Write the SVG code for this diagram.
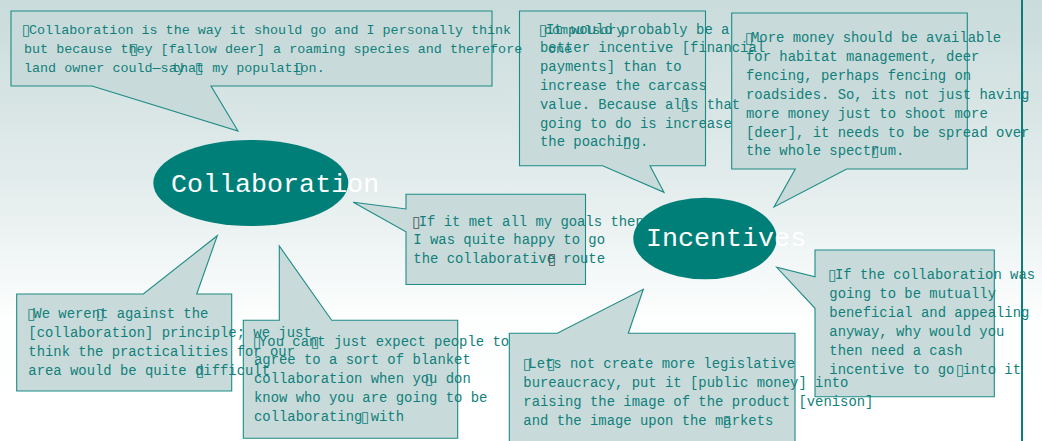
<svg xmlns="http://www.w3.org/2000/svg" width="1042" height="441" viewBox="0 0 1042 441">
  <defs>
    <linearGradient id="bg" x1="0" y1="0" x2="0" y2="1">
      <stop offset="0" stop-color="#c9dbdb"/>
      <stop offset="0.45" stop-color="#e6eeee"/>
      <stop offset="0.72" stop-color="#fdfefe"/>
      <stop offset="1" stop-color="#ffffff"/>
    </linearGradient>
    <style>
      .bubble { fill: #c8dbda; stroke: #1d8b86; stroke-width: 1.1; }
      .t { font-family: "Liberation Mono", "Courier New", monospace; font-size: 13.9px; fill: #117f7a; }
      .ta { font-size: 13.4px; }
      .tofu { font-family: "DejaVu Sans", sans-serif; font-size: 15px; fill: #117f7a; }
      .tofu.dark { fill: #4d4d4d; }
      .hub { fill: #007f79; }
      .hub-label { font-family: "Liberation Mono", "Courier New", monospace; font-size: 26.7px; fill: #ffffff; }
      .rule { stroke: #0e7c77; stroke-width: 2; }
    </style>
  </defs>

  <rect width="1042" height="441" fill="url(#bg)"/>

  <!-- quote: habitat money -->
  <g id="quote-habitat">
    <path class="bubble" d="M731.7,13 H967.3 V169 H846.7 L774,207 L795.3,169 H731.7 Z"/>
    <text class="tofu" x="745" y="43">▯</text>
    <text class="t" x="751" y="42">More money should be available</text>
    <text class="t" x="746" y="60.9">for habitat management, deer</text>
    <text class="t" x="746" y="79.8">fencing, perhaps fencing on</text>
    <text class="t" x="746" y="98.7">roadsides. So, its not just having</text>
    <text class="t" x="746" y="117.6">more money just to shoot more</text>
    <text class="t" x="746" y="136.5">[deer], it needs to be spread over</text>
    <text class="t" x="746" y="155.4">the whole spectrum.</text>
    <text class="tofu" x="871" y="156.4">▯</text>
  </g>

  <!-- quote: financial payments -->
  <g id="quote-payments">
    <path class="bubble" d="M519.5,11 H705.5 V165.7 H650 L664,192.3 L602.7,165.7 H519.5 Z"/>
    <text class="tofu" x="539" y="34.5">▯</text>
    <text class="t" x="546" y="33.5">It would probably be a</text>
    <text class="t" x="540" y="52.3">better incentive [financial</text>
    <text class="t" x="540" y="71.1">payments] than to</text>
    <text class="t" x="540" y="89.9">increase the carcass</text>
    <text class="t" x="540" y="108.7">value. Because alls that</text>
    <text class="tofu" x="681" y="109.7">▯</text>
    <text class="t" x="540" y="127.5">going to do is increase</text>
    <text class="t" x="540" y="146.3">the poaching.</text>
    <text class="tofu" x="623" y="147.3">▯</text>
  </g>

  <!-- quote: collaboration is the way -->
  <g id="quote-way">
    <path class="bubble" d="M11,11 H492 V86 H211 L238,131 L92,86 H11 Z"/>
    <text class="tofu" x="22" y="35">▯</text>
    <text class="t ta" x="29" y="34">Collaboration is the way it should go and I personally think</text>
    <text class="t ta" x="544" y="34">compulsory</text>
    <text class="t ta" x="24" y="53">but because they [fallow deer] a roaming species and therefore</text>
    <text class="tofu" x="130" y="54">▯</text>
    <text class="t ta" x="548" y="53">one</text>
    <text class="t ta" x="24" y="72">land owner could—say</text>
    <text class="t ta" x="172" y="72">that my population.</text>
    <text class="tofu" x="195" y="73">▯</text>
    <text class="tofu" x="295" y="73">▯</text>
  </g>

  <!-- quote: blanket collaboration -->
  <g id="quote-blanket">
    <path class="bubble" d="M243.3,320.3 H279.3 V246 L331.7,320.3 H457.7 V438.3 H243.3 Z"/>
    <text class="tofu" x="253" y="346.5">▯</text>
    <text class="t" x="259" y="345.5">You cant just expect people to</text>
    <text class="tofu" x="311" y="346.5">▯</text>
    <text class="t" x="254" y="364.3">agree to a sort of blanket</text>
    <text class="t" x="254" y="383.1">collaboration when you don</text>
    <text class="tofu" x="425" y="384.1">▯</text>
    <text class="t" x="254" y="401.9">know who you are going to be</text>
    <text class="t" x="254" y="420.7">collaborating with</text>
    <text class="tofu" x="361" y="421.7">▯</text>
  </g>

  <!-- quote: practicalities -->
  <g id="quote-practicalities">
    <path class="bubble" d="M16.7,294 H143.3 L217.3,235.7 L196.7,294 H231.7 V391 H16.7 Z"/>
    <text class="tofu" x="27.3" y="318.5">▯</text>
    <text class="t" x="33.3" y="317.5">We werent against the</text>
    <text class="tofu" x="96" y="318.5">▯</text>
    <text class="t" x="28.3" y="336.5">[collaboration] principle; we just</text>
    <text class="t" x="28.3" y="355.5">think the practicalities for our</text>
    <text class="t" x="28.3" y="374.5">area would be quite difficult</text>
    <text class="tofu" x="196" y="375.5">▯</text>
  </g>

  <!-- quote: cash incentive -->
  <g id="quote-cash">
    <path class="bubble" d="M815,250 H994.3 V396.7 H815 V308.3 L776.7,267.3 L815,276.7 Z"/>
    <text class="tofu" x="828.3" y="279.5">▯</text>
    <text class="t" x="835" y="278.5">If the collaboration was</text>
    <text class="t" x="829.3" y="297.5">going to be mutually</text>
    <text class="t" x="829.3" y="316.5">beneficial and appealing</text>
    <text class="t" x="829.3" y="335.5">anyway, why would you</text>
    <text class="t" x="829.3" y="354.5">then need a cash</text>
    <text class="t" x="829.3" y="373.5">incentive to go into it</text>
    <text class="tofu" x="956" y="374.5">▯</text>
  </g>

  <!-- quote: legislative bureaucracy -->
  <g id="quote-bureaucracy">
    <path class="bubble" d="M509.3,333.3 H557.3 L643.3,289.3 L628.3,333.3 H795 V446 H509.3 Z"/>
    <text class="tofu" x="523" y="368.5">▯</text>
    <text class="t" x="528.3" y="367.5">Lets not create more legislative</text>
    <text class="tofu" x="547" y="368.5">▯</text>
    <text class="t" x="523.3" y="386.5">bureaucracy, put it [public money] into</text>
    <text class="t" x="523.3" y="405.5">raising the image of the product [venison]</text>
    <text class="t" x="523.3" y="424.5">and the image upon the markets</text>
    <text class="tofu" x="723" y="425.5">▯</text>
  </g>

  <!-- quote: collaborative route -->
  <g id="quote-route">
    <path class="bubble" d="M406,194.3 H585.5 V284.5 H406 V231.7 L353.3,202.3 L406,209 Z"/>
    <text class="tofu dark" x="412.3" y="226.5">▯</text>
    <text class="t" x="418.7" y="225.5">If it met all my goals then</text>
    <text class="t" x="413.3" y="244">I was quite happy to go</text>
    <text class="t" x="413.3" y="262.5">the collaborative route</text>
    <text class="tofu dark" x="548" y="263.5">▯</text>
  </g>

  <!-- hub: Collaboration -->
  <g id="hub-collaboration">
    <ellipse class="hub" cx="250.8" cy="183" rx="97.5" ry="43"/>
    <text class="hub-label" x="171" y="192">Collaboration</text>
  </g>

  <!-- hub: Incentives -->
  <g id="hub-incentives">
    <ellipse class="hub" cx="705" cy="238.5" rx="71.7" ry="40.8"/>
    <text class="hub-label" x="646" y="246">Incentives</text>
  </g>

  <!-- page edge rule -->
  <line class="rule" x1="1022" y1="0" x2="1022" y2="441"/>
</svg>
